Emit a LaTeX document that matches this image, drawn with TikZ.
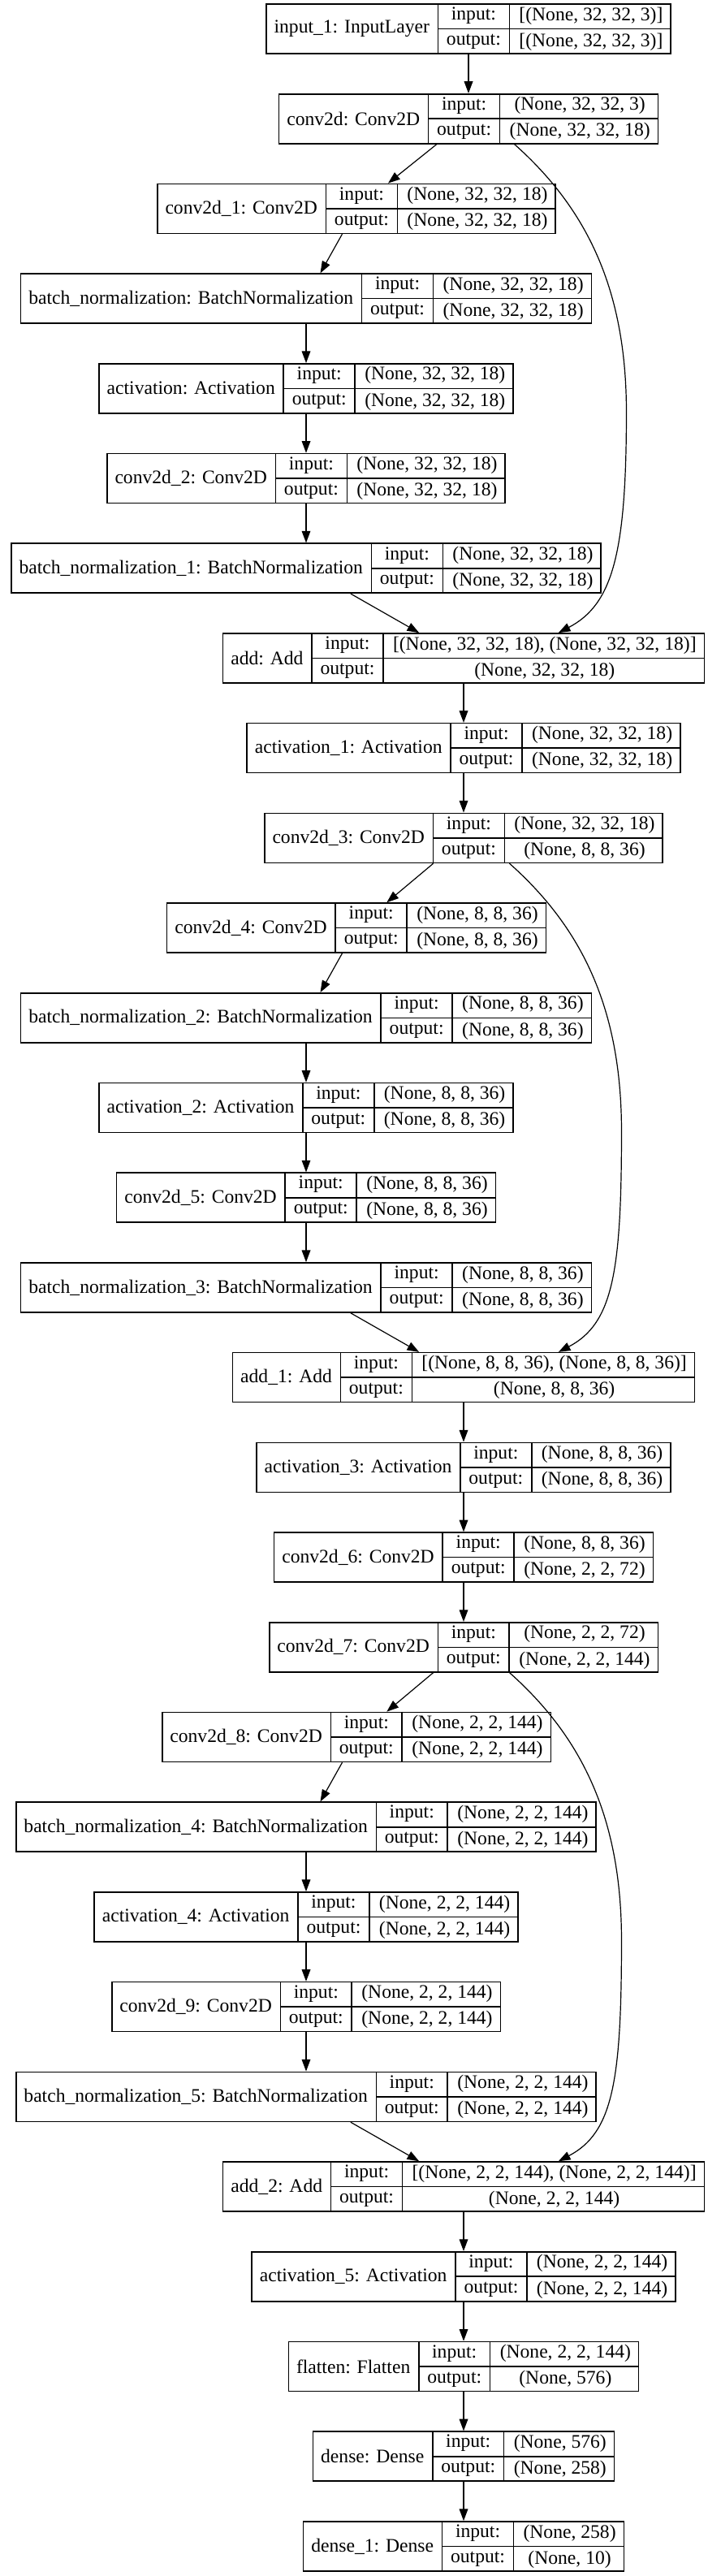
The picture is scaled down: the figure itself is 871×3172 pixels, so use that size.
\documentclass[tikz,border=0pt]{standalone}
\usepackage{fontspec}
\setmainfont{Liberation Serif}
\usepackage{tikz}
\usetikzlibrary{calc,arrows.meta}

\newcommand{\lfont}{\fontsize{17.7}{21}\selectfont}
\font\lraw="Liberation Serif" at 17.7pt % same face, for measuring inside the picture
\newdimen\lenlab
\newdimen\lenin
\newdimen\lenout
\newdimen\lenport
\newsavebox{\measbox}
% width of a text in the label font
\newcommand{\measure}[2]{\sbox{\measbox}{\lraw #2}#1=\wd\measbox}

\begin{document}
\begin{tikzpicture}[x=0.75pt,y=-0.75pt,font=\lfont,
  layer/.style={draw,line width=1.2pt,inner sep=0pt,minimum height=\boxh*0.75pt},
  rule/.style={line width=1.2pt},
  edge/.style={line width=0.9pt,-{Triangle[length=11pt,width=8pt]}}]
\pgfmathsetmacro{\boxh}{61}     % box height (px)
\pgfmathsetmacro{\rankd}{110.71} % distance between ranks
\pgfmathsetmacro{\pad}{21}      % padding of one field
\pgfmathsetmacro{\xm}{571}      % main column
\pgfmathsetmacro{\xb}{377}      % branch column
\pgfmathsetmacro{\xc}{439}      % first conv of a branch
\measure{\global\lenport}{output:}
\pgfmathsetmacro{\wport}{\the\lenport/0.75+\pad}

\useasboundingbox (0,0) rectangle (871,3172);

%%% LAYERS: name / centre x / rank / label / input shape / output shape
\foreach \n/\cx/\k/\lab/\vin/\vout in {
  in1/577/0/{input\_1: InputLayer}/{[(None, 32, 32, 3)]}/{[(None, 32, 32, 3)]},
  cv0/577/1/{conv2d: Conv2D}/{(None, 32, 32, 3)}/{(None, 32, 32, 18)},
  cv1/\xc/2/{conv2d\_1: Conv2D}/{(None, 32, 32, 18)}/{(None, 32, 32, 18)},
  bn0/\xb/3/{batch\_normalization: BatchNormalization}/{(None, 32, 32, 18)}/{(None, 32, 32, 18)},
  act0/\xb/4/{activation: Activation}/{(None, 32, 32, 18)}/{(None, 32, 32, 18)},
  cv2/\xb/5/{conv2d\_2: Conv2D}/{(None, 32, 32, 18)}/{(None, 32, 32, 18)},
  bn1/\xb/6/{batch\_normalization\_1: BatchNormalization}/{(None, 32, 32, 18)}/{(None, 32, 32, 18)},
  add0/\xm/7/{add: Add}/{[(None, 32, 32, 18), (None, 32, 32, 18)]}/{(None, 32, 32, 18)},
  act1/\xm/8/{activation\_1: Activation}/{(None, 32, 32, 18)}/{(None, 32, 32, 18)},
  cv3/\xm/9/{conv2d\_3: Conv2D}/{(None, 32, 32, 18)}/{(None, 8, 8, 36)},
  cv4/\xc/10/{conv2d\_4: Conv2D}/{(None, 8, 8, 36)}/{(None, 8, 8, 36)},
  bn2/\xb/11/{batch\_normalization\_2: BatchNormalization}/{(None, 8, 8, 36)}/{(None, 8, 8, 36)},
  act2/\xb/12/{activation\_2: Activation}/{(None, 8, 8, 36)}/{(None, 8, 8, 36)},
  cv5/\xb/13/{conv2d\_5: Conv2D}/{(None, 8, 8, 36)}/{(None, 8, 8, 36)},
  bn3/\xb/14/{batch\_normalization\_3: BatchNormalization}/{(None, 8, 8, 36)}/{(None, 8, 8, 36)},
  add1/\xm/15/{add\_1: Add}/{[(None, 8, 8, 36), (None, 8, 8, 36)]}/{(None, 8, 8, 36)},
  act3/\xm/16/{activation\_3: Activation}/{(None, 8, 8, 36)}/{(None, 8, 8, 36)},
  cv6/\xm/17/{conv2d\_6: Conv2D}/{(None, 8, 8, 36)}/{(None, 2, 2, 72)},
  cv7/\xm/18/{conv2d\_7: Conv2D}/{(None, 2, 2, 72)}/{(None, 2, 2, 144)},
  cv8/\xc/19/{conv2d\_8: Conv2D}/{(None, 2, 2, 144)}/{(None, 2, 2, 144)},
  bn4/\xb/20/{batch\_normalization\_4: BatchNormalization}/{(None, 2, 2, 144)}/{(None, 2, 2, 144)},
  act4/\xb/21/{activation\_4: Activation}/{(None, 2, 2, 144)}/{(None, 2, 2, 144)},
  cv9/\xb/22/{conv2d\_9: Conv2D}/{(None, 2, 2, 144)}/{(None, 2, 2, 144)},
  bn5/\xb/23/{batch\_normalization\_5: BatchNormalization}/{(None, 2, 2, 144)}/{(None, 2, 2, 144)},
  add2/\xm/24/{add\_2: Add}/{[(None, 2, 2, 144), (None, 2, 2, 144)]}/{(None, 2, 2, 144)},
  act5/\xm/25/{activation\_5: Activation}/{(None, 2, 2, 144)}/{(None, 2, 2, 144)},
  flat/\xm/26/{flatten: Flatten}/{(None, 2, 2, 144)}/{(None, 576)},
  dense0/\xm/27/{dense: Dense}/{(None, 576)}/{(None, 258)},
  dense1/\xm/28/{dense\_1: Dense}/{(None, 258)}/{(None, 10)}}
{
% field widths from the texts
\measure{\lenlab}{\lab}
\measure{\lenin}{\vin}
\measure{\lenout}{\vout}
\ifdim\lenout>\lenin \lenin=\lenout \fi
\pgfmathsetmacro{\wlab}{\the\lenlab/0.75+\pad}
\pgfmathsetmacro{\wval}{\the\lenin/0.75+\pad}
\pgfmathsetmacro{\wall}{\wlab+\wport+\wval}
\pgfmathsetmacro{\cy}{5+\boxh/2+\k*\rankd}

% outer box
\node[layer,minimum width=\wall*0.75pt] (\n) at (\cx,\cy) {};

% inner lines of the record
\draw[rule] ($(\n.north west)+(\wlab,0)$) -- ($(\n.south west)+(\wlab,0)$);
\draw[rule] ($(\n.north west)+(\wlab+\wport,0)$) -- ($(\n.south west)+(\wlab+\wport,0)$);
\draw[rule] ($(\n.west)+(\wlab,0)$) -- (\n.east);

% texts
\node (\n-l) at ($(\n.west)+(\wlab/2,0)$) {\lab};
\node (\n-pi) at ($(\n.north west)+(\wlab+\wport/2,\boxh/4)$) {input:};
\node (\n-po) at ($(\n.south west)+(\wlab+\wport/2,-\boxh/4)$) {output:};
\node (\n-vi) at ($(\n.north east)+(-\wval/2,\boxh/4)$) {\vin};
\node (\n-vo) at ($(\n.south east)+(-\wval/2,-\boxh/4)$) {\vout};
}

%%% CONNECTIONS
\foreach \a/\b in {in1/cv0, cv0/cv1, cv1/bn0, bn0/act0, act0/cv2, cv2/bn1, bn1/add0,
  add0/act1, act1/cv3, cv3/cv4, cv4/bn2, bn2/act2, act2/cv5, cv5/bn3, bn3/add1,
  add1/act3, act3/cv6, cv6/cv7, cv7/cv8, cv8/bn4, bn4/act4, act4/cv9, cv9/bn5, bn5/add2,
  add2/act5, act5/flat, flat/dense0, dense0/dense1}
  \draw[edge] (\a) -- (\b);

% skip connections
\foreach \a/\b in {cv0/add0, cv3/add1, cv7/add2}
  \draw[edge] (\a.-29) .. controls +(90,80) and +(0,-150) .. ++(138,330)
    .. controls +(0,173) and +(67,-35) .. (\b.15);
\end{tikzpicture}
\end{document}
